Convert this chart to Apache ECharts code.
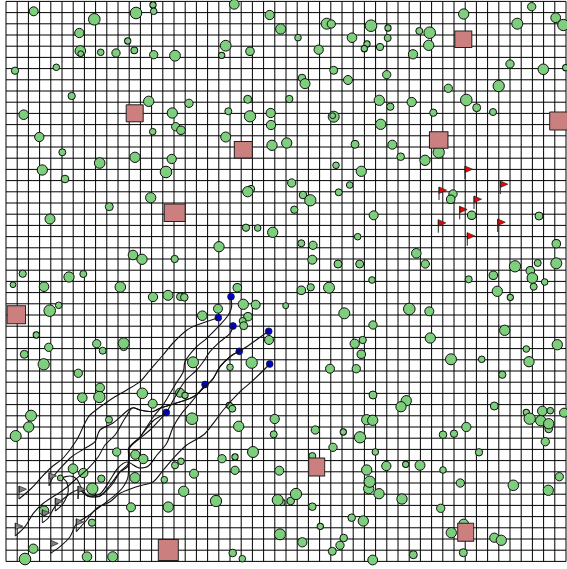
<!DOCTYPE html>
<html>
<head>
<meta charset="utf-8">
<title>Trajectories through a forest</title>
<style>html,body{margin:0;padding:0;background:#fff}#c{width:567px;height:569px}</style>
<script src="https://cdn.jsdelivr.net/npm/echarts@6/dist/echarts.min.js"></script>
</head>
<body>
<div id="c"></div>
<script>
// trees: [x, y, diameter]
const trees = [
[27.7,550.7,8.7],[88.3,542.7,11.3],[130,549,11.3],[147,557,6],[147.7,550.7,6.3],[228.3,557.7,9.5],[263.7,547,9],[274.7,533,10],[73.3,529,9],[121.7,521,6],[74.3,511,10.3],[74.7,508.3,5.5],[94.7,509.7,6.3],[110,509,8],[128.3,511.7,6.5],[147.7,507.3,8],[169,506.3,10.5],[219.7,516.3,10.5],[215.7,506.7,6],[244,510.7,8.3],[9,491.3,7],[50.3,494.7,6.3],[65.7,466,7],[142.7,460.7,10],[183,458.7,8],[241.7,462.7,7.7],[222.3,450.7,6.7],[244,445.7,11],[264.7,449,9],[17.7,447.3,9.3],[166.3,449,10],[169.7,435.3,8],[175,431.7,8.3],[265,437,9],[146.7,430.3,6.3],[33.3,425,9],[219.7,425,9.7],[266,416.7,10],[280.7,419,10],[56.3,409.7,6.7],[129,404.7,10],[93.7,399,10.3],[165.7,403,9],[36.3,392,10],[160,390,11.3],[59,383,7.3],[245,373,7],[241.7,370.3,10],
[457.7,548,10],[525.7,555.3,8],[549.7,544.3,9.5],[557.3,537,11],[511.3,538.3,10.7],[320.7,538.3,10.7],[325.3,538,8],[365,536.3,11.3],[382,534,6],[292,524.3,6.3],[346,524.3,9.3],[381.7,524,6.7],[413.3,531,6.7],[423.7,529.3,11.3],[361,518,6],[358.3,513.3,6],[374,515,7],[422.7,516.7,10],[312.7,512.3,9],[407,507.7,9],[504,498,8],[537.3,492.7,10.3],[559.7,494.3,6],[327.7,491.7,7.7],[380.7,487.3,8],[296,484,7.3],[299,478.3,9.7],[342,482,8.7],[442.3,473.7,8],[492.7,476,11],[283.3,463,7],[373.3,461.7,10],[405.7,460,9],[460.3,462,11.3],[470.7,454.3,7.7],[487,450,6.7],[384.3,455.3,7],[427.3,449.3,7],[327.7,445.3,10.7],[326.7,446.3,5.5],[374.7,437.7,10],[349,417.7,7.7],[386.3,417.3,8.7],[394.7,405.3,7.3],[419,401.7,10],[432.7,409.7,11],[330,396.7,6.3],[355.3,390.7,10],[285.7,379,8],[343.7,377,6.3],[332.7,369.7,6.7],
[144.7,364.3,10],[103.3,355.3,7.7],[44,343,9.7],[240,334.3,7],[251.7,334,6.3],[266.7,329.7,10],[213,315.3,10],[127,307,9.3],[136,302.7,10],[168.7,303,7],[16.7,288.3,7],[63,285,10],[77.3,288,6.7],[7,277.3,5.5],[38,275.3,9.3],[114.3,275,10.3],[147,265,9],[162,266.7,9.7],[174.3,265.3,7.3],[178.3,264.7,7.3],[231.3,274.3,8.3],[212,253.3,8.7],[237.3,257.7,10],[249.7,257.3,8.7],[279.7,256.3,5.7],[52.7,256.7,6.3],[43.7,251.3,11.3],[196.3,246.3,9.3],[242,245.3,8.3],[236.7,241,6.7],[237.7,236.3,7.7],[30.3,227,6],[90.7,218.3,8],[96.7,211.3,6.7],[117.7,215,7],[117.7,218.7,10.7],[42.7,214.7,8],[18.3,207.7,7.7],[37.7,197.7,11],[72.3,188.7,8],[187,199.7,10.7],[245.7,199.3,11],[263,222,8.7],[224,194.7,6.3],
[297,367,7.3],[304.3,361.7,11],[288.3,352.3,7],[447,368,8],[444.7,362.7,8.3],[367.7,346.7,8.7],[465.7,346.7,8.3],[533,346,7.7],[351.7,325.3,6.3],[295.3,318.7,6.7],[307,316.7,8],[306.3,302.3,8.7],[332,298,7.7],[353.7,298,7.7],[410.3,308.7,9.3],[419.3,298,8],[550.3,318.3,8.3],[509,295.7,11],[487.3,286.7,8.3],[524.3,291.3,8.3],[531.7,299,6.7],[550.3,298.7,10.7],[526.3,284,10.3],[538.7,280,6.3],[527.7,275.3,6.7],[462.7,282.7,6.7],[366,282,6.3],[304.7,274.7,7],[295.3,271.7,8.3],[323,274.3,10.7],[491.3,270.7,10],[504.3,264.7,6],[403.3,253,11.3],[423.3,250.7,8.7],[338.3,248.7,10.7],[367,237,8],[498.7,231.7,10],[424.3,224,10],[356.7,222,7],[348.7,218.3,9],[520.3,213,6.3],[551.3,217.3,10],[355.3,207.7,8.3],[445,202.7,10.7],[475.7,202.7,6.3],[523,200.3,10],[324,193.3,8.7],[350.3,193.3,8],[496.3,187.3,7],
[94,174.3,8.7],[76.3,164.3,9.3],[93.3,165,11],[136.3,168.7,10.3],[174,169.3,8.7],[179,166.7,6],[146.7,158.3,8.7],[25,146.3,10.7],[22.7,135,10],[9.7,126,10.7],[103,142.3,6.7],[186,143.3,11.3],[223.3,156.7,6],[226.3,153.3,6.7],[232.7,135.7,10],[268.7,143,9],[267.7,127.7,6.7],[110.7,110,8],[129.3,107.3,9],[137.3,103,9],[169,96.7,6.7],[175,100.7,6.3],[216,103.3,8],[229,105,6],[247,110,10.7],[67,93.3,9.3],[77.3,89,9],[54.3,84,5.5],[95.3,83.3,7],[129,84.3,10],[158.3,82.3,6.3],[188,88.3,8.7],[229,91.7,8],[273.3,91.3,8.7],[86.3,73.3,11],[177.7,70.7,10],[210,61,11],[275.7,59.7,6.7],[271.7,62,10.7],[38,51.3,9.3],[125,54.7,8.7],[162.3,55,10],[86,39.3,7],[274,27.7,10.7],[27.3,13.3,9],[19,3,11.3],[81,5.3,9.3],[106.7,5.3,9.7],[226.7,9,7.3],[236.3,3.3,6.3],
[367,167,7.7],[400.3,161.3,10],[395,155.3,10],[488.3,156,7.7],[520.3,149.7,6],[536.3,151,9.3],[544.3,151.3,6.3],[558,149.3,8.7],[523.7,143.3,11],[534.7,141.3,10],[542.7,133,7.3],[542.7,138.3,10],[360.7,142.3,10],[366.7,141.7,10],[309.3,132,8],[337.3,130,6],[460.3,135,9],[437,127.3,7.3],[448,128.3,7],[354,124.7,11],[539.3,120.3,8],[327,114.7,8],[369.3,110,6.3],[473,109.7,7],[306.3,106,6.7],[360.7,92,10],[380.3,96,9],[399.7,97.7,6],[414,96.7,9.7],[437,92,6.3],[553.3,85.3,8],[362.7,73.3,10],[363.7,80.3,11],[373,68.3,10],[454.3,79,8],[507.3,76.7,10.3],[542.3,71.7,10],[284.7,61,7.3],[290,68,11],[396,63,10],[306.3,55.3,7.3],[434.7,53.7,8],[345.7,44.3,7.3],[357.3,41,10],[314.3,35.7,6],[457.7,38,9.5],[445.3,29.3,10],[296.3,19.7,9],[337.7,24,7.3],[334,16.7,8],[326.3,10.7,7.7],[488.3,24.3,9],[495.3,21.7,10],[457.3,9.3,7.7],[407.3,7.3,7.7],[366.7,2,9.5]
];
// obstacles: [x, y, width, height]
const obstacles = [[128.7,448.7,17,17],[237.3,412.3,18,16.5],[457.3,522.7,17,16.5],[432.7,422,18.5,16.5],[552.7,441,18,18],[168.7,349.3,21,17.5],[10.3,247.3,18.5,18],[162.3,12,20,21],[310.7,95,16,18],[459.7,29.7,16,18]];
const goalFlags = [[459,383],[433,362],[494.3,368],[468,353],[453.7,342.7],[432.3,329.3],[491.7,330],[461.3,316.3]];
const startFlags = [[13,63],[43,76.3],[36.3,39.3],[9.3,26],[49.3,51],[70.3,30.3],[44.7,8.7],[72,63]];
const agents = [[225,265.3],[212.3,244.3],[227,236],[262.7,230.7],[233.3,210.7],[263.7,198],[199,177.5],[160.3,149.5]];
const path1 = [[13,63],[25.7,74],[35.7,85],[45.7,95],[57.3,104],[70.7,122],[79,139],[84,147],[104,162],[120.7,172],[134,180.3],[144,192],[157,207],[167,219],[181,232],[191,237],[212.3,244.3]];
const path2 = [[43,76.3],[47.3,85.3],[55.7,95.3],[65.7,105.3],[79,113.7],[89,120.3],[94,132],[107,139],[122.3,152],[127.3,154.3],[134,152],[145.7,150.3],[154,153.7],[167.3,158],[187.3,165.3],[199,175.3],[207.3,183.7],[214,195.3],[224,205.3],[233.3,211],[240.7,215.3],[262.7,231]];
const path3 = [[9.3,26],[19,35.3],[27.3,48.7],[37.3,58.7],[57.3,72],[69,82],[82.3,93.7],[92.3,105.3],[99,117],[109,127],[119,143.7],[127.3,154.3],[134,152],[145.7,150.3],[154,153.7],[167.3,158],[187.3,165.3],[199,175.3],[207.3,183.7],[214,195.3],[224,205.3],[233.3,210.7]];
const path4 = [[36.3,39.3],[42.3,44],[49,55.3],[62.3,67],[72.3,72],[84,65.3],[92.3,65.3],[104,77],[114,90.3],[122.3,99],[122.7,112],[134,125],[147.3,145],[157,157],[169,177],[177.3,190.3],[179,200.3],[189,213.7],[200.7,223.7],[212.3,235.3],[222.3,247],[225.7,257],[225,265.3]];
const path5 = [[49.3,51],[57.3,58.7],[62.3,72],[60.7,80],[57,84],[64,86],[70.7,83],[75,75],[82,66],[89,65],[97,68],[107.3,79],[114,90],[122,96],[123,107],[122.5,113],[134,125],[147,141],[160.3,150],[169,165],[179,181],[190.7,192],[197.3,200.3],[204,210.3],[214,220.3],[224,228.7],[227,236]];
const path6 = [[44.7,8.7],[54,15.3],[64,25.3],[70.7,38.7],[80.7,45.3],[94,55.3],[107.3,65.3],[117.3,75.3],[122.3,87],[122.7,104],[122.3,112],[134,123.7],[144,132],[160.3,149.3]];
const path7 = [[70.3,30.3],[80.7,42],[90.7,53.7],[104,60.3],[114,68.7],[130.7,75.3],[147.3,80.3],[157.3,92],[167.3,103.7],[180.7,117],[197.3,127],[207.3,138.7],[217.3,152],[234,170.3],[245.7,180.3],[263.7,198]];
const path8 = [[72,63],[74,72],[82,66],[94,68],[104,82],[112,94],[121,100],[134,94],[142.3,96],[151,107],[160.7,118.7],[167.3,135.3],[175.7,148.7],[185.7,160.3],[199,177.5]];
const paths = [path1,path2,path3,path4,path5,path6,path7,path8];

// lattice: 50 cells of 11.2 units on each axis
const cell = 11.2, cells = 50, yShift = 0.6;
const latticeRows = [];
for (let k = 0; k <= cells; k++) latticeRows.push([k*cell, k*cell + yShift]);

const chart = echarts.init(document.getElementById('c'), null, {renderer:'canvas', width:567, height:569});

function flagSeries(data, fill, name){
  return {
    type:'custom', name, coordinateSystem:'cartesian2d', silent:true, clip:false, z:6,
    data,
    encode:{x:0,y:1},
    renderItem(params, api){
      const p = api.coord([api.value(0), api.value(1)]);
      const top = p[1]-13;
      return {type:'group', children:[
        {type:'polygon', shape:{points:[[p[0],top],[p[0]+7.5,top+3.2],[p[0],top+6.5]]}, style:{fill, stroke:'#222', lineWidth:0.7}},
        {type:'line', shape:{x1:p[0],y1:p[1],x2:p[0],y2:top}, style:{stroke:'#222', lineWidth:1}}
      ]};
    }
  };
}

const axisCommon = {type:'value', min:0, max:560, interval:cell, silent:true,
  axisLine:{show:false}, axisTick:{show:false}, axisLabel:{show:false}, splitLine:{show:false}};

chart.setOption({
  animation:false, backgroundColor:'#fff',
  grid:{left:6, top:2, width:560, height:560},
  xAxis:axisCommon, yAxis:axisCommon,
  series:[
    {type:'custom', name:'lattice', coordinateSystem:'cartesian2d', silent:true, clip:false, z:1,
      data:latticeRows, encode:{x:0,y:1},
      renderItem(params, api){
        const x = api.value(0), y = api.value(1);
        const a = api.coord([x, yShift]), b = api.coord([x, cells*cell + yShift]);
        const c = api.coord([0, y]), d = api.coord([cells*cell, y]);
        return {type:'group', children:[
          {type:'line', shape:{x1:a[0],y1:a[1],x2:b[0],y2:b[1]}, style:{stroke:'#000', lineWidth:1}},
          {type:'line', shape:{x1:c[0],y1:c[1],x2:d[0],y2:d[1]}, style:{stroke:'#000', lineWidth:1}}
        ]};
      }},
    {type:'scatter', name:'trees', silent:true, clip:false, z:2, data:trees, encode:{x:0,y:1},
      symbol:'circle', symbolSize:v=>v[2]+0.3,
      itemStyle:{color:'#7dce7d', borderColor:'#111', borderWidth:1, opacity:1}},
    {type:'scatter', name:'obstacles', silent:true, clip:false, z:3, data:obstacles, encode:{x:0,y:1},
      symbol:'rect', symbolSize:v=>[v[2],v[3]],
      itemStyle:{color:'#cc7f7f', borderColor:'#222', borderWidth:1, opacity:1}},
    {type:'scatter', name:'agents', silent:true, clip:false, z:4, data:agents,
      symbol:'circle', symbolSize:6.8,
      itemStyle:{color:'#0000dd', borderColor:'#111', borderWidth:0.7, opacity:1}},
    ...paths.map((p,i)=>({type:'line', name:'path'+(i+1), silent:true, clip:false, z:5, data:p,
      showSymbol:false, smooth:0.3, lineStyle:{color:'#111', width:1.1}})),
    flagSeries(startFlags,'#808080','start'),
    flagSeries(goalFlags,'#f00000','goal')
  ]
});
</script>
</body>
</html>
